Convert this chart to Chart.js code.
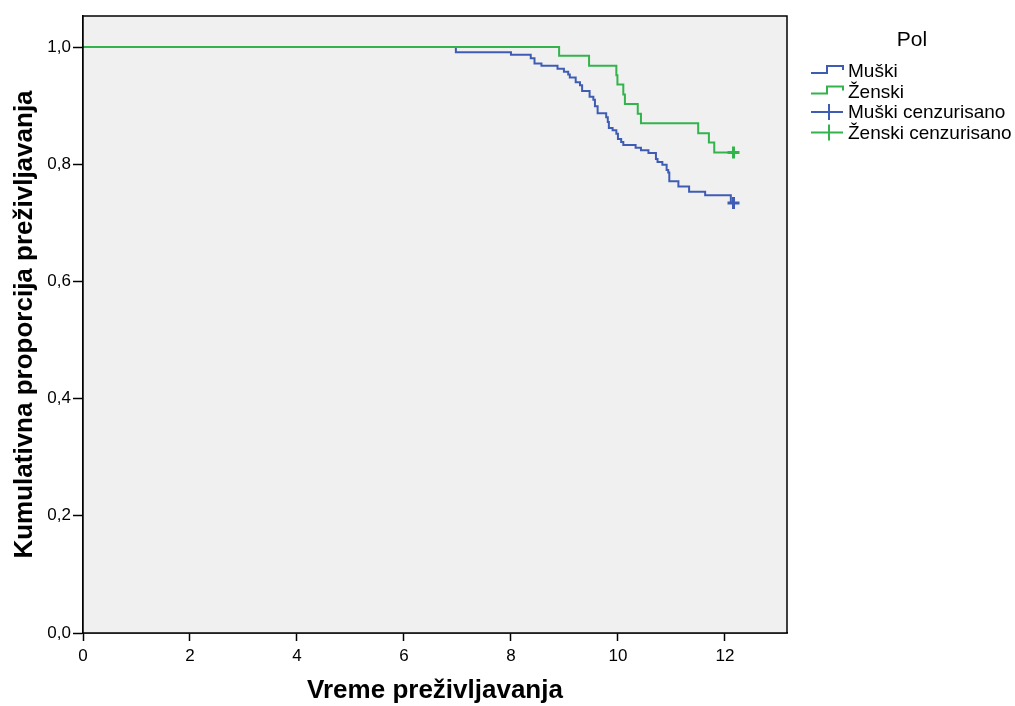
<!DOCTYPE html>
<html>
<head>
<meta charset="utf-8">
<script src="https://cdn.jsdelivr.net/npm/chart.js@4.4.0/dist/chart.umd.min.js"></script>
<style>
  body { margin: 0; background: #ffffff; }
  #wrap { width: 1015px; height: 706px; }
</style>
</head>
<body>
<div id="wrap"><canvas id="kmChart" width="1015" height="706"></canvas></div>
<script>
// Kaplan-Meier estimates (time, cumulative survival)
var muskiTime = [0, 6.97, 8.00, 8.37, 8.44, 8.57, 8.87, 8.99, 9.07, 9.10, 9.21, 9.29, 9.33, 9.47, 9.54, 9.57, 9.62,
                 9.78, 9.81, 9.83, 9.90, 9.97, 10.00, 10.06, 10.10, 10.33, 10.43, 10.57, 10.71, 10.74, 10.83,
                 10.91, 10.94, 10.96, 11.13, 11.33, 11.63, 12.11, 12.16];
var muskiSurv = [1.0, 0.991, 0.987, 0.981, 0.972, 0.968, 0.963, 0.958, 0.953, 0.948, 0.940, 0.935, 0.925, 0.915, 0.910, 0.899, 0.887,
                 0.880, 0.872, 0.862, 0.858, 0.852, 0.843, 0.838, 0.833, 0.828, 0.824, 0.819, 0.809, 0.804, 0.799,
                 0.790, 0.786, 0.771, 0.762, 0.753, 0.747, 0.734, 0.734];
var zenskiTime = [0, 8.90, 9.46, 9.97, 9.99, 10.10, 10.13, 10.37, 10.43, 11.50, 11.70, 11.80, 12.16];
var zenskiSurv = [1.0, 0.985, 0.968, 0.952, 0.936, 0.919, 0.903, 0.886, 0.870, 0.853, 0.837, 0.820, 0.820];

// censored observations
var muskiCensTime = [12.16];
var muskiCensSurv = [0.734];
var zenskiCensTime = [12.16];
var zenskiCensSurv = [0.820];

var legendTitle = 'Pol';
var legendLabels = ['Muški', 'Ženski', 'Muški cenzurisano', 'Ženski cenzurisano'];
var xTitle = 'Vreme preživljavanja';
var yTitle = 'Kumulativna proporcija preživljavanja';

var blue = '#3f5cb4';
var green = '#33b34b';

function pts(xs, ys) {
    var out = [];
    for (var i = 0; i < xs.length; i++) out.push({x: xs[i], y: ys[i]});
    return out;
}

var comma = function (v) { return v.toFixed(1).replace('.', ','); };

// plot background + frame
var frame = {
    id: 'frame',
    beforeDatasetsDraw: function (chart) {
        var a = chart.chartArea, ctx = chart.ctx;
        ctx.save();
        ctx.fillStyle = '#f0f0f0';
        ctx.fillRect(a.left, a.top, a.right - a.left, a.bottom - a.top);
        ctx.restore();
    },
    afterDraw: function (chart) {
        var a = chart.chartArea, ctx = chart.ctx;
        ctx.save();
        ctx.strokeStyle = '#000';
        ctx.lineWidth = 1.5;
        ctx.strokeRect(a.left, a.top, a.right - a.left, a.bottom - a.top);
        ctx.restore();
    }
};

// SPSS style legend at the right
var spssLegend = {
    id: 'spssLegend',
    afterDraw: function (chart) {
        var ctx = chart.ctx;
        var x0 = 811, x1 = 843;
        var colors = [blue, green, blue, green];
        ctx.save();
        ctx.fillStyle = '#000';
        ctx.font = '21px "Liberation Sans", Arial, sans-serif';
        ctx.textAlign = 'center';
        ctx.textBaseline = 'middle';
        ctx.fillText(legendTitle, 912, 40);
        ctx.font = '19px "Liberation Sans", Arial, sans-serif';
        ctx.textAlign = 'left';
        for (var i = 0; i < legendLabels.length; i++) {
            var y = 71 + i * 20.5;
            ctx.strokeStyle = colors[i];
            ctx.lineWidth = 2;
            ctx.beginPath();
            if (i < 2) {
                ctx.moveTo(x0, y + 2);
                ctx.lineTo(827, y + 2);
                ctx.lineTo(827, y - 5);
                ctx.lineTo(x1, y - 5);
                ctx.lineTo(x1, y - 1);
            } else {
                ctx.moveTo(x0, y);
                ctx.lineTo(x1, y);
                ctx.moveTo(829, y - 8);
                ctx.lineTo(829, y + 8);
            }
            ctx.stroke();
            ctx.fillStyle = '#000';
            ctx.fillText(legendLabels[i], 848, y + 1);
        }
        ctx.restore();
    }
};

var ctx1 = document.getElementById('kmChart');

var kmChart = new Chart(ctx1, {
    type: 'line',
    data: {
        datasets: [{
            label: legendLabels[2],
            data: pts(muskiCensTime, muskiCensSurv),
            showLine: false,
            pointStyle: 'cross',
            pointRadius: 6,
            pointBorderWidth: 3,
            borderColor: blue,
            backgroundColor: blue,
            order: 0
        }, {
            label: legendLabels[3],
            data: pts(zenskiCensTime, zenskiCensSurv),
            showLine: false,
            pointStyle: 'cross',
            pointRadius: 6,
            pointBorderWidth: 3,
            borderColor: green,
            backgroundColor: green,
            order: 0
        }, {
            label: legendLabels[1],
            data: pts(zenskiTime, zenskiSurv),
            stepped: 'before',
            borderColor: green,
            borderWidth: 2,
            pointRadius: 0,
            fill: false,
            order: 1
        }, {
            label: legendLabels[0],
            data: pts(muskiTime, muskiSurv),
            stepped: 'before',
            borderColor: blue,
            borderWidth: 2,
            pointRadius: 0,
            fill: false,
            order: 2
        }]
    },
    options: {
        responsive: false,
        animation: false,
        layout: { padding: { left: 0, top: 16, right: 228, bottom: 0 } },
        plugins: {
            legend: { display: false },
            tooltip: { enabled: false }
        },
        scales: {
            x: {
                type: 'linear',
                min: 0,
                max: 13.16,
                afterFit: function (s) { s.height = 73; },
                grid: { drawOnChartArea: false, drawTicks: true, tickLength: 8, color: '#000', tickWidth: 1.5 },
                border: { display: true, color: '#000', width: 1.5 },
                ticks: {
                    stepSize: 2,
                    includeBounds: false,
                    maxRotation: 0,
                    padding: 5,
                    color: '#000',
                    font: { family: '"Liberation Sans", Arial, sans-serif', size: 17 }
                },
                title: {
                    display: true,
                    text: xTitle,
                    color: '#000',
                    padding: { top: 0, bottom: 0 },
                    font: { family: '"Liberation Sans", Arial, sans-serif', size: 26, weight: 'bold' }
                }
            },
            y: {
                type: 'linear',
                min: 0,
                max: 1.053,
                afterFit: function (s) { s.width = 83; },
                grid: { drawOnChartArea: false, drawTicks: true, tickLength: 10, color: '#000', tickWidth: 1.5 },
                border: { display: true, color: '#000', width: 1.5 },
                ticks: {
                    stepSize: 0.2,
                    includeBounds: false,
                    padding: 2,
                    color: '#000',
                    callback: comma,
                    font: { family: '"Liberation Sans", Arial, sans-serif', size: 17 }
                },
                title: {
                    display: true,
                    text: yTitle,
                    color: '#000',
                    padding: { top: 9, bottom: 0 },
                    font: { family: '"Liberation Sans", Arial, sans-serif', size: 26, weight: 'bold' }
                }
            }
        }
    },
    plugins: [frame, spssLegend]
});
</script>
</body>
</html>
